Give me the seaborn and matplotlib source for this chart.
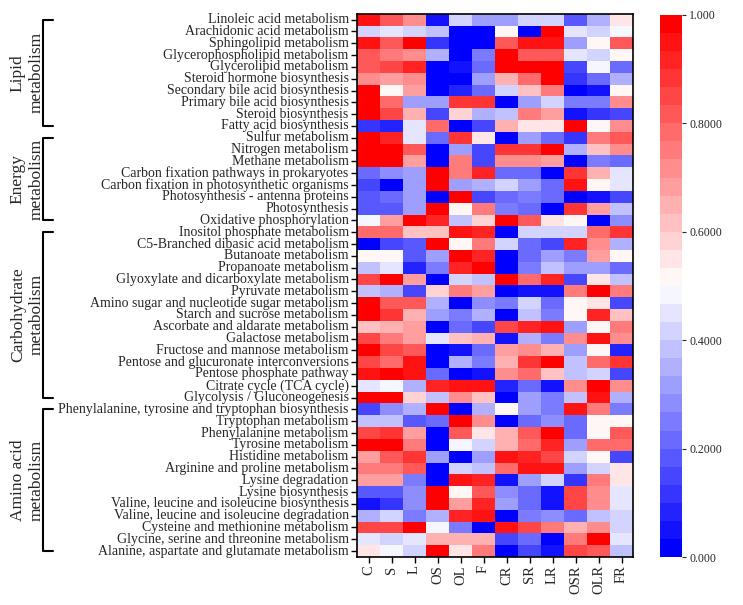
import matplotlib
matplotlib.use('Agg')
import numpy as np
import pandas as pd
import matplotlib.pyplot as plt
import matplotlib.transforms as mtransforms
import seaborn as sns

samples = ['C', 'S', 'L', 'OS', 'OL', 'F', 'CR', 'SR', 'LR', 'OSR', 'OLR', 'FR']

lipid_paths = ['Linoleic acid metabolism', 'Arachidonic acid metabolism', 'Sphingolipid metabolism',
               'Glycerophospholipid metabolism', 'Glycerolipid metabolism', 'Steroid hormone biosynthesis',
               'Secondary bile acid biosynthesis', 'Primary bile acid biosynthesis', 'Steroid biosynthesis',
               'Fatty acid biosynthesis']
lipid_vals = [
    [0.95, 0.82, 0.72, 0.05, 0.40, 0.30, 0.30, 0.40, 0.43, 0.18, 0.35, 0.55],
    [0.42, 0.45, 0.40, 0.38, 0.00, 0.00, 0.50, 0.02, 1.00, 0.45, 0.43, 0.48],
    [0.95, 0.80, 0.98, 0.10, 0.00, 0.00, 0.80, 0.95, 0.95, 0.30, 0.50, 0.80],
    [0.80, 0.75, 0.70, 0.35, 0.00, 0.25, 1.00, 0.80, 0.80, 0.45, 0.40, 0.50],
    [0.82, 0.85, 0.90, 0.03, 0.05, 0.20, 1.00, 1.00, 1.00, 0.15, 0.47, 0.20],
    [0.70, 0.68, 0.70, 0.00, 0.02, 0.30, 0.65, 0.78, 1.00, 0.10, 0.20, 0.35],
    [1.00, 0.50, 0.68, 0.00, 0.08, 0.20, 0.42, 0.60, 0.75, 0.03, 0.05, 0.50],
    [1.00, 0.78, 0.30, 0.32, 0.88, 0.88, 0.02, 0.30, 0.42, 0.25, 0.25, 0.72],
    [1.00, 0.85, 0.65, 0.15, 0.58, 0.35, 0.38, 0.75, 0.68, 0.05, 0.12, 0.15],
    [0.12, 0.08, 0.44, 0.78, 0.02, 0.15, 0.65, 0.55, 0.55, 1.00, 0.52, 0.72],
]

energy_paths = ['Sulfur metabolism', 'Nitrogen metabolism', 'Methane metabolism',
                'Carbon fixation pathways in prokaryotes', 'Carbon fixation in photosynthetic organisms',
                'Photosynthesis - antenna proteins', 'Photosynthesis', 'Oxidative phosphorylation']
energy_vals = [
    [1.00, 0.90, 0.44, 0.20, 0.88, 0.55, 0.03, 0.30, 0.20, 0.10, 0.75, 0.80],
    [1.00, 1.00, 0.82, 0.00, 0.30, 0.15, 0.88, 0.88, 0.97, 0.35, 0.62, 0.70],
    [1.00, 1.00, 0.68, 0.00, 0.75, 0.15, 0.72, 0.72, 0.68, 0.02, 0.25, 0.20],
    [0.20, 0.28, 0.30, 1.00, 0.75, 0.90, 0.20, 0.20, 0.02, 0.88, 0.65, 0.44],
    [0.15, 0.02, 0.32, 1.00, 0.30, 0.35, 0.42, 0.30, 0.22, 0.95, 0.50, 0.44],
    [0.18, 0.20, 0.30, 0.02, 0.98, 0.15, 0.22, 0.25, 0.20, 0.03, 0.05, 0.15],
    [0.17, 0.17, 0.30, 1.00, 0.50, 0.75, 0.25, 0.20, 0.03, 0.88, 0.68, 0.38],
    [0.48, 0.68, 1.00, 0.90, 0.38, 0.58, 1.00, 0.80, 0.56, 0.52, 0.02, 0.28],
]

carb_paths = ['Inositol phosphate metabolism', 'C5-Branched dibasic acid metabolism', 'Butanoate metabolism',
              'Propanoate metabolism', 'Glyoxylate and dicarboxylate metabolism', 'Pyruvate metabolism',
              'Amino sugar and nucleotide sugar metabolism', 'Starch and sucrose metabolism',
              'Ascorbate and aldarate metabolism', 'Galactose metabolism', 'Fructose and mannose metabolism',
              'Pentose and glucuronate interconversions', 'Pentose phosphate pathway',
              'Citrate cycle (TCA cycle)', 'Glycolysis / Gluconeogenesis']
carb_vals = [
    [0.78, 0.78, 0.62, 0.62, 0.95, 0.92, 0.03, 0.42, 0.42, 0.40, 0.78, 0.88],
    [0.02, 0.15, 0.18, 1.00, 0.50, 0.75, 0.42, 0.22, 0.15, 0.92, 0.70, 0.35],
    [0.50, 0.50, 0.18, 0.30, 1.00, 0.90, 0.02, 0.20, 0.30, 0.25, 0.68, 0.50],
    [0.38, 0.44, 0.08, 0.25, 0.90, 1.00, 0.02, 0.25, 0.38, 0.30, 0.32, 0.20],
    [0.85, 1.00, 0.68, 0.03, 0.42, 0.38, 1.00, 0.78, 0.90, 0.15, 0.55, 0.38],
    [0.38, 0.35, 0.15, 0.58, 0.75, 0.68, 0.02, 0.05, 0.05, 0.75, 1.00, 0.75],
    [1.00, 0.82, 0.80, 0.35, 0.02, 0.28, 0.25, 0.40, 0.22, 0.52, 0.55, 0.15],
    [1.00, 0.88, 0.65, 0.32, 0.25, 0.35, 0.03, 0.38, 0.25, 0.50, 0.90, 0.62],
    [0.62, 0.65, 0.68, 0.03, 0.20, 0.15, 0.85, 0.90, 0.95, 0.32, 0.50, 0.75],
    [0.85, 0.75, 0.68, 0.45, 0.62, 0.65, 0.05, 0.35, 0.25, 0.72, 0.95, 0.72],
    [1.00, 0.85, 0.80, 0.02, 0.05, 0.20, 0.68, 0.72, 0.65, 0.30, 0.50, 0.08],
    [0.85, 0.78, 0.95, 0.03, 0.35, 0.25, 0.65, 0.88, 1.00, 0.38, 0.78, 0.88],
    [0.95, 1.00, 0.95, 0.20, 0.02, 0.05, 0.72, 0.78, 0.62, 0.38, 0.40, 0.15],
    [0.45, 0.48, 0.35, 0.90, 0.95, 0.95, 0.08, 0.20, 0.05, 0.72, 1.00, 0.70],
    [1.00, 1.00, 0.58, 0.38, 0.70, 0.62, 0.03, 0.30, 0.25, 0.38, 0.95, 0.35],
]

amino_paths = ['Phenylalanine, tyrosine and tryptophan biosynthesis', 'Tryptophan metabolism',
               'Phenylalanine metabolism', 'Tyrosine metabolism', 'Histidine metabolism',
               'Arginine and proline metabolism', 'Lysine degradation', 'Lysine biosynthesis',
               'Valine, leucine and isoleucine biosynthesis', 'Valine, leucine and isoleucine degradation',
               'Cysteine and methionine metabolism', 'Glycine, serine and threonine metabolism',
               'Alanine, aspartate and glutamate metabolism']
amino_vals = [
    [0.15, 0.28, 0.35, 1.00, 0.02, 0.35, 0.50, 0.30, 0.25, 0.95, 0.75, 0.25],
    [0.38, 0.38, 0.18, 0.22, 1.00, 0.72, 0.02, 0.22, 0.28, 0.22, 0.52, 0.50],
    [0.85, 0.88, 0.68, 0.02, 0.82, 0.56, 0.66, 0.80, 1.00, 0.20, 0.52, 0.82],
    [1.00, 1.00, 0.75, 0.02, 0.48, 0.40, 0.65, 0.78, 0.92, 0.32, 0.78, 0.78],
    [0.68, 0.80, 0.88, 0.32, 0.02, 0.32, 0.95, 0.90, 0.85, 0.42, 0.50, 0.15],
    [0.75, 0.75, 0.80, 0.02, 0.42, 0.38, 0.78, 0.95, 0.95, 0.32, 0.40, 0.56],
    [0.68, 0.68, 0.25, 0.02, 0.95, 0.92, 0.05, 0.30, 0.43, 0.12, 0.75, 0.56],
    [0.18, 0.18, 0.28, 1.00, 0.52, 0.82, 0.28, 0.22, 0.05, 0.85, 0.70, 0.44],
    [0.05, 0.12, 0.28, 1.00, 0.68, 0.90, 0.32, 0.22, 0.05, 0.85, 0.72, 0.45],
    [0.35, 0.42, 0.25, 0.35, 0.92, 0.95, 0.03, 0.25, 0.28, 0.22, 0.38, 0.42],
    [0.85, 0.85, 1.00, 0.48, 0.25, 0.02, 0.95, 0.85, 0.75, 0.65, 0.70, 0.43],
    [0.45, 0.42, 0.44, 0.65, 0.65, 0.65, 0.15, 0.22, 0.03, 0.75, 1.00, 0.45],
    [0.56, 0.48, 0.43, 1.00, 0.56, 0.75, 0.03, 0.15, 0.05, 0.85, 0.80, 0.38],
]

group_names = ['Lipid\nmetabolism', 'Energy\nmetabolism', 'Carbohydrate\nmetabolism', 'Amino acid\nmetabolism']
group_paths = [lipid_paths, energy_paths, carb_paths, amino_paths]
group_vals = [lipid_vals, energy_vals, carb_vals, amino_vals]

cbar_ticks = [0.0, 0.2, 0.4, 0.6, 0.8, 1.0]
cbar_labels = ['0.000', '0.2000', '0.4000', '0.6000', '0.8000', '1.000']

df = pd.DataFrame(np.vstack([np.array(v) for v in group_vals]),
                  index=sum(group_paths, []), columns=samples)

sns.set_style('white')
plt.rcParams['font.family'] = ['Liberation Serif', 'DejaVu Serif']

fig = plt.figure(figsize=(7.43, 6.05), dpi=100)
ax = fig.add_axes([0.4805, 0.0793, 0.3715, 0.898])
cax = fig.add_axes([0.888, 0.0793, 0.030, 0.896])

cmap = plt.get_cmap('bwr').resampled(30)
sns.heatmap(df, ax=ax, cbar_ax=cax, cmap=cmap, vmin=0, vmax=1,
            cbar_kws={'ticks': cbar_ticks})

for sp in ax.spines.values():
    sp.set_visible(True)
    sp.set_color('black')
    sp.set_linewidth(1.2)

ax.set_yticks(np.arange(len(df)) + 0.5)
ax.set_yticklabels(df.index, fontsize=10)
ax.set_xticks(np.arange(len(samples)) + 0.5)
ax.set_xticklabels(samples, fontsize=10.5, rotation=90)
ax.tick_params(axis='both', left=True, bottom=True, length=4, width=1, pad=2, color='black')
ax.set_xlabel('')
ax.set_ylabel('')

cbar = ax.collections[0].colorbar
cbar.outline.set_visible(False)
cbar.set_ticklabels(cbar_labels)
cax.tick_params(labelsize=8.5, length=3, width=0.8, right=True, pad=2)

# group brackets on the far left
trans = mtransforms.blended_transform_factory(fig.transFigure, ax.transData)
xv, xh, xt = 43 / 743, 53 / 743, 27 / 743
start = 0
for name, paths in zip(group_names, group_paths):
    y0 = start + 0.5
    y1 = start + len(paths) - 0.5
    ax.plot([xh, xv, xv, xh], [y0, y0, y1, y1], transform=trans,
            color='black', lw=1.5, clip_on=False)
    ax.text(xt, (y0 + y1) / 2, name, transform=trans, rotation=90,
            ha='center', va='center', fontsize=12.5, multialignment='center')
    start += len(paths)

fig.savefig('out.png', dpi=100)
